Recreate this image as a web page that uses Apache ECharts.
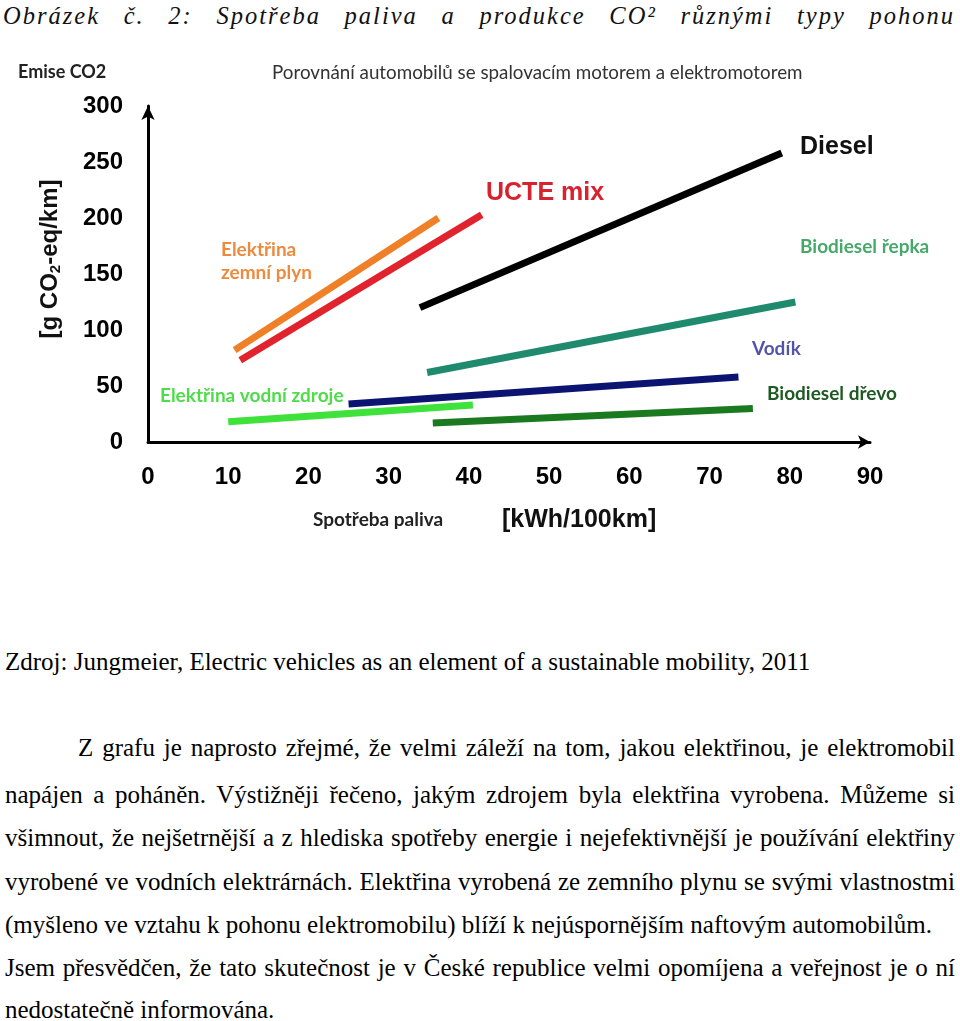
<!DOCTYPE html>
<html>
<head>
<meta charset="utf-8">
<script src="https://cdn.jsdelivr.net/npm/echarts@6/dist/echarts.min.js"></script>
<style>
html,body{margin:0;padding:0;background:#fff;}
body{width:960px;height:1021px;position:relative;overflow:hidden;}
#chart{position:absolute;left:0;top:0;width:960px;height:560px;}
.cap{position:absolute;left:3px;width:952px;top:0px;height:32px;line-height:32px;
 font-family:"Liberation Serif",serif;font-style:italic;font-size:24.5px;letter-spacing:2px;color:#111;
 text-align:justify;text-align-last:justify;}
.t{position:absolute;left:5px;width:950px;line-height:30px;
 font-family:"Liberation Serif","Times New Roman",serif;font-size:25px;color:#000;white-space:normal;}
.j{text-align:justify;text-align-last:justify;}
</style>
</head>
<body>
<div class="cap">Obrázek č. 2: Spotřeba paliva a produkce CO² různými typy pohonu</div>
<div id="chart"></div>
<div class="t" style="top:647px">Zdroj: Jungmeier, Electric vehicles as an element of a sustainable mobility, 2011</div>
<div class="t j" style="top:733px;left:78px;width:877px">Z grafu je naprosto zřejmé, že velmi záleží na tom, jakou elektřinou, je elektromobil</div>
<div class="t j" style="top:780px">napájen a poháněn. Výstižněji řečeno, jakým zdrojem byla elektřina vyrobena. Můžeme si</div>
<div class="t j" style="top:823px">všimnout, že nejšetrnější a z hlediska spotřeby energie i nejefektivnější je používání elektřiny</div>
<div class="t j" style="top:867px">vyrobené ve vodních elektrárnách. Elektřina vyrobená ze zemního plynu se svými vlastnostmi</div>
<div class="t" style="top:910px">(myšleno ve vztahu k pohonu elektromobilu) blíží k nejúspornějším naftovým automobilům.</div>
<div class="t j" style="top:953px">Jsem přesvědčen, že tato skutečnost je v České republice velmi opomíjena a veřejnost je o ní</div>
<div class="t" style="top:995px">nedostatečně informována.</div>
<script>
// keep each paragraph line on one line
Array.prototype.forEach.call(document.querySelectorAll('.t'), function(el){
  var ls = 0;
  while (el.offsetHeight > 40 && ls > -2) { ls -= 0.1; el.style.letterSpacing = ls + 'px'; }
});

// Data (x: kWh/100km, y: g CO2-eq/km), start and end of each line
var seriesNames = ['Elektřina zemní plyn','UCTE mix','Diesel','Biodiesel řepka','Vodík','Elektřina vodní zdroje','Biodiesel dřevo'];
var plynX = [10.8, 36.2], plynY = [82, 200];
var ucteX = [11.5, 41.6], ucteY = [73, 203];
var dieselX = [33.9, 79.0], dieselY = [120, 258];
var repkaX = [34.8, 80.7], repkaY = [62, 125];
var vodikX = [25.0, 73.6], vodikY = [34, 58];
var vodniX = [10.0, 40.5], vodniY = [18, 33];
var drevoX = [35.5, 75.4], drevoY = [17, 30];
var xTicks = [0,10,20,30,40,50,60,70,80,90];
var yTicks = [0,50,100,150,200,250,300];

var lineColors = ['#f08028','#e0232c','#000000','#1f8a6e','#0b1470','#3ee23a','#1b7a1f'];
var xs = [plynX, ucteX, dieselX, repkaX, vodikX, vodniX, drevoX];
var ys = [plynY, ucteY, dieselY, repkaY, vodikY, vodniY, drevoY];

function pairs(x, y){ return x.map(function(v,i){ return [v, y[i]]; }); }

var series = seriesNames.map(function(n, i){
  return {
    name: n, type: 'line', data: pairs(xs[i], ys[i]),
    symbol: 'none', silent: true,
    lineStyle: {color: lineColors[i], width: 7, cap: 'butt'}
  };
});

var lato = '"Lato", "Open Sans", sans-serif';
var arial = '"Liberation Sans", Arial, sans-serif';
function T(text, x, cy, size, weight, fam, color){
  return {type:'text', x:x, y:cy, silent:true,
    style:{text:text, fontSize:size, fontWeight:weight, fontFamily:fam, fill:color,
      align:'left', verticalAlign:'middle'}};
}

var chart = echarts.init(document.getElementById('chart'), null, {renderer:'canvas'});
chart.setOption({
  animation:false,
  backgroundColor:'transparent',
  grid:{left:148, top:106, width:722, height:336, containLabel:false},
  xAxis:{type:'value', min:0, max:90, interval:10,
    axisLine:{show:true, onZero:false, symbol:['none','arrow'], symbolSize:[10,12],
      lineStyle:{color:'#000', width:3}},
    axisTick:{show:false}, splitLine:{show:false},
    axisLabel:{margin:23, fontSize:24, fontWeight:'bold', fontFamily:arial, color:'#000',
      formatter:function(v){ return xTicks.indexOf(v) >= 0 ? String(v) : ''; }}
  },
  yAxis:{type:'value', min:0, max:300, interval:50,
    axisLine:{show:true, onZero:false, symbol:['none','arrow'], symbolSize:[10,14],
      lineStyle:{color:'#000', width:3}},
    axisTick:{show:false}, splitLine:{show:false},
    axisLabel:{margin:25, fontSize:24, fontWeight:'bold', fontFamily:arial, color:'#000',
      formatter:function(v){ return yTicks.indexOf(v) >= 0 ? String(v) : ''; }}
  },
  series: series,
  graphic:[
    {type:'text', x:50, y:259, rotation:Math.PI/2, silent:true,
      style:{text:'{m|[g CO}{s|2}{m|-eq/km]}', align:'center', verticalAlign:'middle',
        rich:{
          m:{fontSize:24, fontWeight:'bold', fontFamily:arial, fill:'#111', lineHeight:28},
          s:{fontSize:15, fontWeight:'bold', fontFamily:arial, fill:'#111', lineHeight:28, padding:[12,0,0,0]}
        }}},
    T('Emise CO2', 18, 72, 18, 'bold', lato, '#222'),
    T('Porovnání automobilů se spalovacím motorem a elektromotorem', 272, 73, 18.8, 'normal', lato, '#333'),
    T('Diesel', 800, 147, 25, 'bold', arial, '#111'),
    T('UCTE mix', 486, 193, 25, 'bold', arial, '#d8222f'),
    T('Elektřina', 221, 250, 19, 'bold', lato, '#ec8a3e'),
    T('zemní plyn', 221, 273, 19, 'bold', lato, '#ec8a3e'),
    T('Biodiesel řepka', 800, 247, 19, 'bold', lato, '#46a96a'),
    T('Vodík', 752, 349, 19, 'bold', lato, '#5354a6'),
    T('Biodiesel dřevo', 767, 394, 19, 'bold', lato, '#1d5a22'),
    T('Elektřina vodní zdroje', 160, 396, 19, 'bold', lato, '#4fdc4a'),
    T('Spotřeba paliva', 313, 520, 19, 'bold', lato, '#222'),
    T('[kWh/100km]', 502, 520, 25, 'bold', arial, '#111')
  ]
});
</script>
</body>
</html>
